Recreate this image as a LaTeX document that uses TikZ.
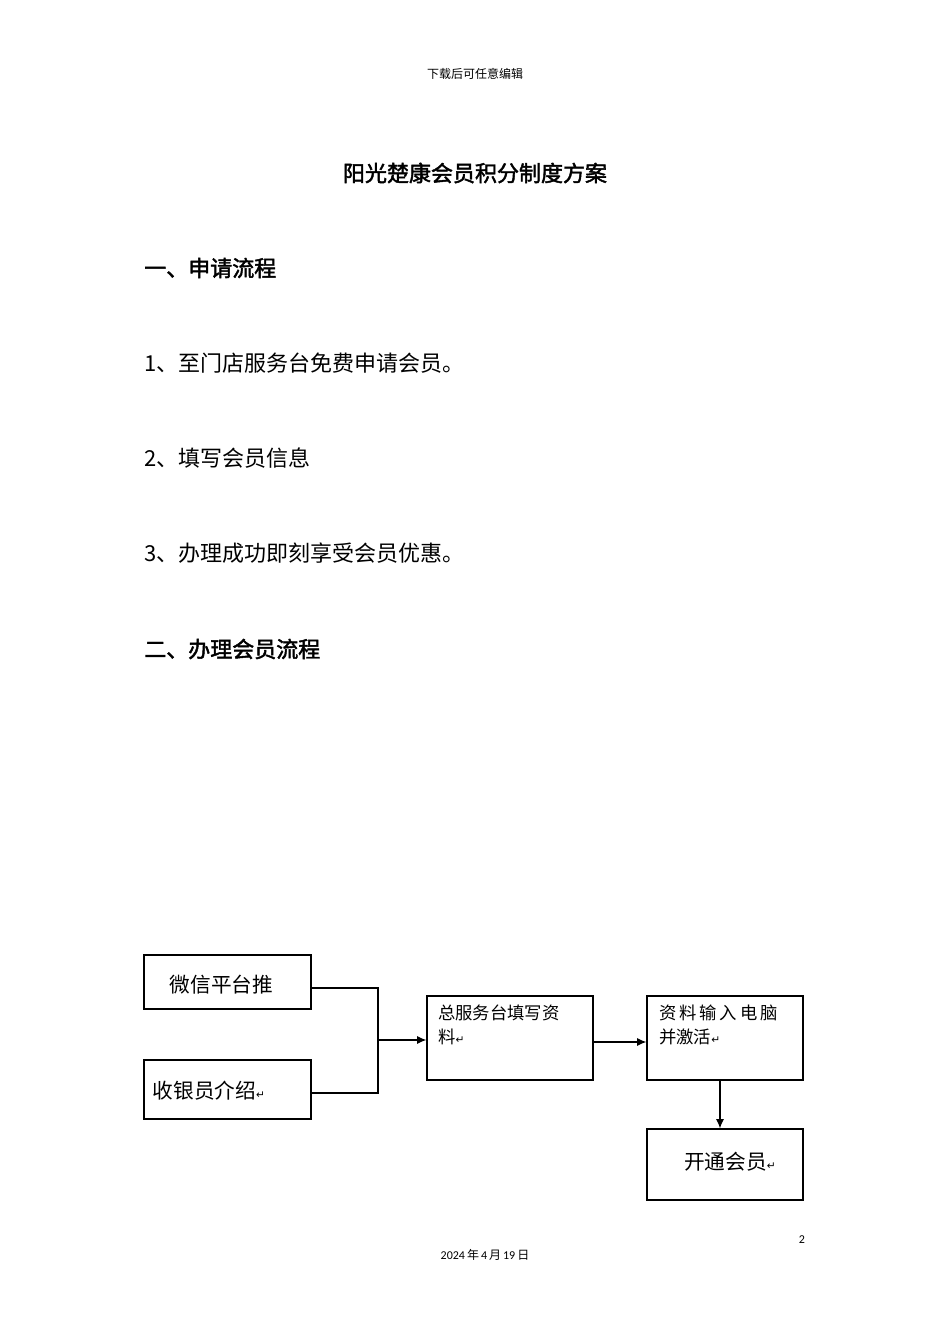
\documentclass[tikz,border=0pt]{standalone}
\usepackage{fontspec}
\usetikzlibrary{arrows.meta}
\setmainfont{Carlito}
\newfontfamily\cjk{Noto Sans CJK SC}
\newfontfamily\cjkb{Noto Sans CJK SC}[FakeBold=2]
\newfontfamily\djvfont{DejaVu Sans}
\newcommand{\rtmark}{{\djvfont\fontsize{8}{8}\selectfont ↵}}
\begin{document}
\begin{tikzpicture}[x=0.75pt,y=-0.75pt,
  box/.style={draw,line width=0.9pt,rectangle},
  conn/.style={line width=0.8pt},
  arr/.style={conn,-{Latex[length=7pt,width=6pt]}},
  body/.style={anchor=west,inner sep=0pt,font=\cjk\fontsize{16.5}{18}\selectfont},
  head/.style={anchor=west,inner sep=0pt,font=\cjkb\fontsize{16.5}{18}\selectfont}]
\useasboundingbox (0,0) rectangle (950,1344);
\node (hd) at (475,74) {\cjk\fontsize{9}{10}\selectfont 下载后可任意编辑};
\node[font=\cjkb\fontsize{16.5}{18}\selectfont] (tt) at (475,173) {阳光楚康会员积分制度方案};
\node[head] (h1) at (144,268) {一、申请流程};
\node[body] (i1) at (144,363) {1、至门店服务台免费申请会员。};
\node[body] (i2) at (144,458) {2、填写会员信息};
\node[body] (i3) at (144,553) {3、办理成功即刻享受会员优惠。};
\node[head] (h2) at (144,649) {二、办理会员流程};
\node[box,minimum width=167*0.75pt,minimum height=54*0.75pt] (A) at (227.5,982) {};
\node[anchor=west,font=\cjk\fontsize{15.5}{17}\selectfont] (At) at (165,985) {微信平台推};
\node[box,minimum width=167*0.75pt,minimum height=59*0.75pt] (B) at (227.5,1089.5) {};
\node[anchor=west,font=\cjk\fontsize{15.5}{17}\selectfont] (Bt) at (148,1091) {收银员介绍\rtmark};
\node[box,minimum width=166*0.75pt,minimum height=84*0.75pt] (C) at (510,1038) {};
\node[anchor=north west,align=left,inner sep=0pt,font=\cjk\fontsize{13}{18}\selectfont] (Ct) at (438,1005) {总服务台填写资\\料\rtmark};
\node[box,minimum width=156*0.75pt,minimum height=84*0.75pt] (D) at (725,1038) {};
\node[anchor=north west,align=left,inner sep=0pt,font=\cjk\fontsize{13}{18}\selectfont] (Dt) at (659,1005) {资\,料\,输\,入\,电\,脑\\并激活\rtmark};
\node[box,minimum width=156*0.75pt,minimum height=71*0.75pt] (E) at (725,1164.5) {};
\node[font=\cjk\fontsize{15.5}{17}\selectfont] (Et) at (730,1162) {开通会员\rtmark};
\coordinate (j) at (378,1040);
\draw[conn] (A.east|-0,988) -- (378,988) -- (378,1093) -- (B.east|-0,1093);
\draw[arr] (j) -- (C.west|-j);
\draw[arr] (C.east|-0,1042) -- (D.west|-0,1042);
\draw[arr] (D.south-|720,0) -- (E.north-|720,0);
\node (pn) at (802,1240) {\fontsize{9}{10}\selectfont 2};
\node (dt) at (485,1255) {\fontsize{9}{10}\selectfont 2024\,{\cjk 年}\,4\,{\cjk 月}\,19\,{\cjk 日}};
\end{tikzpicture}
\end{document}
